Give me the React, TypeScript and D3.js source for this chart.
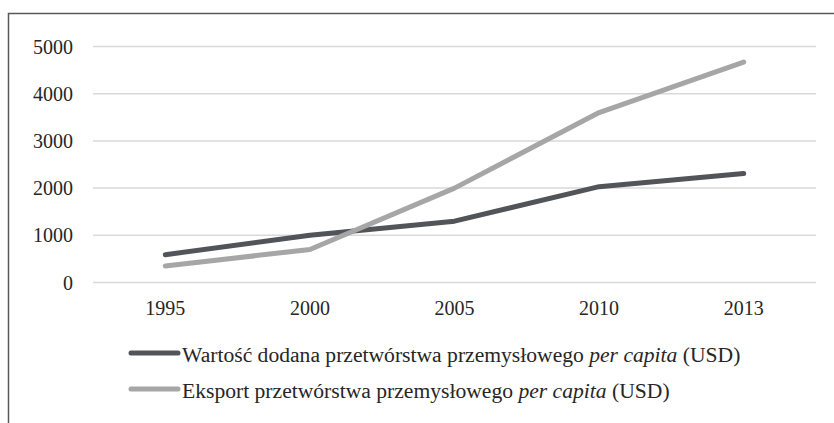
import React, { useRef, useEffect } from 'react';
import * as d3 from 'd3';

// dane
const years = ['1995', '2000', '2005', '2010', '2013'];
const wartoscDodana = [590, 1000, 1300, 2030, 2310];
const eksport = [350, 700, 2000, 3600, 4670];
const yTicks = [0, 1000, 2000, 3000, 4000, 5000];

const App = () => {
    const svgRef = useRef<SVGSVGElement>(null);

    useEffect(() => {
        const svg = d3.select(svgRef.current);
        svg.selectAll('*').remove();

        const font = "'Liberation Serif', 'DejaVu Serif', serif";

        // ramka (ucięta z prawej i u dołu)
        svg.append('path')
            .attr('d', 'M8.5,423 L8.5,13.5 L834,13.5')
            .attr('fill', 'none')
            .attr('stroke', '#595959')
            .attr('stroke-width', 1.5);

        const xScale = d3.scalePoint<string>()
            .domain(years)
            .range([93, 816])
            .padding(0.5);

        const yScale = d3.scaleLinear()
            .domain([0, 5000])
            .range([282.5, 46.5]);

        // linie siatki
        svg.append('g')
            .selectAll('line')
            .data(yTicks)
            .enter()
            .append('line')
            .attr('x1', 93)
            .attr('x2', 816)
            .attr('y1', d => yScale(d))
            .attr('y2', d => yScale(d))
            .attr('stroke', '#d9d9d9')
            .attr('stroke-width', 1.5);

        // etykiety osi Y
        svg.append('g')
            .selectAll('text')
            .data(yTicks)
            .enter()
            .append('text')
            .attr('x', 73)
            .attr('y', d => yScale(d))
            .attr('dy', '0.35em')
            .attr('text-anchor', 'end')
            .style('font-family', font)
            .style('font-size', '20px')
            .attr('fill', '#262626')
            .text(d => d);

        // etykiety osi X
        svg.append('g')
            .selectAll('text')
            .data(years)
            .enter()
            .append('text')
            .attr('x', d => xScale(d)!)
            .attr('y', 315)
            .attr('text-anchor', 'middle')
            .style('font-family', font)
            .style('font-size', '20px')
            .attr('fill', '#262626')
            .text(d => d);

        const line = d3.line<number>()
            .x((d, i) => xScale(years[i])!)
            .y(d => yScale(d));

        const series = [
            { name: 'Wartość dodana przetwórstwa przemysłowego ', values: wartoscDodana, color: '#515458' },
            { name: 'Eksport przetwórstwa przemysłowego ', values: eksport, color: '#a6a6a6' },
        ];

        series.forEach(s => {
            svg.append('path')
                .datum(s.values)
                .attr('fill', 'none')
                .attr('stroke', s.color)
                .attr('stroke-width', 5)
                .attr('stroke-linecap', 'round')
                .attr('stroke-linejoin', 'round')
                .attr('d', line);
        });

        // legenda
        const legend = svg.append('g');
        series.forEach((s, i) => {
            const y = 354 + i * 36;
            legend.append('line')
                .attr('x1', 131)
                .attr('x2', 178)
                .attr('y1', y - 1)
                .attr('y2', y - 1)
                .attr('stroke', s.color)
                .attr('stroke-width', 5)
                .attr('stroke-linecap', 'round');
            const t = legend.append('text')
                .attr('x', 182)
                .attr('y', y)
                .attr('dy', '0.35em')
                .style('font-family', font)
                .style('font-size', '21.6px')
                .attr('fill', '#262626');
            t.append('tspan').text(s.name);
            t.append('tspan').style('font-style', 'italic').text('per capita');
            t.append('tspan').text(' (USD)');
        });
    }, []);

    return (
        <svg
            ref={svgRef}
            width={834}
            height={423}
            style={{ position: 'absolute', left: 0, top: 0, background: '#ffffff' }}
        />
    );
};

export default App;
